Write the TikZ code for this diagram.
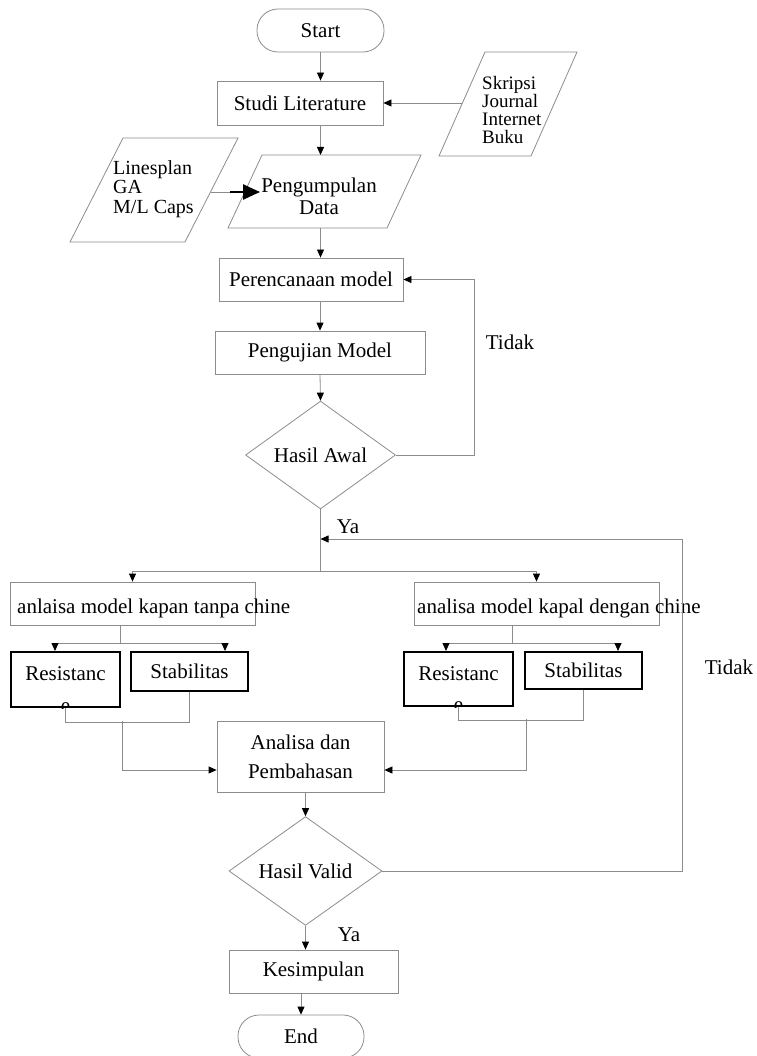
\documentclass[tikz,border=0pt]{standalone}
\usepackage{fontspec}
\setmainfont{Liberation Serif}
\usetikzlibrary{arrows.meta,shapes.geometric}
\definecolor{abu}{gray}{0.55}
\newcommand{\huruf}{\fontsize{21}{24}\selectfont}
\tikzset{
  kotak/.style={draw=abu, line width=0.8pt, rectangle, inner sep=0pt, align=center, font=\huruf},
  kotaktebal/.style={draw=black, line width=2pt, rectangle, inner sep=0pt, align=center, font=\huruf},
  terminal/.style={draw=abu, line width=0.8pt, rectangle, rounded corners=21pt, inner sep=0pt, font=\huruf},
  keputusan/.style={draw=abu, line width=0.8pt, diamond, inner sep=0pt, font=\huruf},
  garis/.style={draw=abu, line width=0.8pt},
  panah/.style={draw=abu, line width=0.8pt, -{Triangle[length=8pt,width=7pt,black]}},
  teks/.style={inner sep=0pt, font=\huruf},
}
\begin{document}
\begin{tikzpicture}[x=1pt,y=-1pt]
\useasboundingbox (0,0) rectangle (756,1056);

\node[terminal, minimum width=127pt, minimum height=43pt] (mulai) at (320.5,30.5) {Start}; % Start
\node[kotak, minimum width=166pt, minimum height=44pt] (studi) at (300,103) {Studi Literature}; % Studi

\draw[garis] (485,52) -- (577,52) -- (531,156) -- (439,156) -- cycle; % sumber
\node[teks, align=left, anchor=west, font=\fontsize{19}{18}\selectfont] (sumber) at (482,110) {Skripsi\\Journal\\Internet\\Buku};
\draw[garis] (123,138) -- (238,138) -- (185,242) -- (70,242) -- cycle; % ukuran
\node[teks, align=left, anchor=west, font=\fontsize{20}{19.5}\selectfont] (ukuran) at (113,189) {Linesplan\\GA\\M/L Caps};
\draw[garis] (262,155) -- (421,155) -- (387,228) -- (228,228) -- cycle; % data
\node[teks, align=center, font=\fontsize{21}{22}\selectfont] (data) at (319,196) {Pengumpulan\\Data};
\coordinate (datas) at (320.5,155);
\coordinate (datab) at (320.5,228);
\coordinate (sumberkiri) at (462,103);
\coordinate (ukurankanan) at (211,192);
\coordinate (tebal) at (230,192);
\coordinate (datakiri) at (260,192);

\node[kotak, minimum width=184pt, minimum height=43pt] (rencana) at (311,279.5) {Perencanaan model};
\node[kotak, minimum width=210pt, minimum height=43pt] (uji) at (320,352.5) {Pengujian Model};
\node[keputusan, minimum width=150pt, minimum height=100pt] (awal) at (320.5,455) {Hasil Awal};

\coordinate (pisah) at (320.5,571);
\coordinate (balik) at (682,539);
\node[kotak, minimum width=245pt, minimum height=43pt] (tanpa) at (132.5,603.5) {};
\node[teks, anchor=base west] (tanpateks) at (17,613) {anlaisa model kapan tanpa chine};
\node[kotak, minimum width=245pt, minimum height=43pt] (dengan) at (536.5,603.5) {};
\node[teks, anchor=base west] (denganteks) at (417,613) {analisa model kapal dengan chine};

% kiri
\node[kotaktebal, minimum width=109pt, minimum height=55pt] (res1) at (65.5,679.5) {};
\node[teks, anchor=base] (res1teks) at (65.5,680) {Resistanc};
\node[kotaktebal, minimum width=117pt, minimum height=39pt] (stab1) at (189.5,671.5) {Stabilitas};
% kanan
\node[kotaktebal, minimum width=109pt, minimum height=54pt] (res2) at (458.5,679) {};
\node[teks, anchor=base] (res2teks) at (458.5,680) {Resistanc};
\node[kotaktebal, minimum width=117pt, minimum height=37pt] (stab2) at (583.5,670.5) {Stabilitas};
\begin{scope}
  \clip (res1.south west) rectangle (res1.north east);
  \node[teks, anchor=base] (res1e) at (65.5,712) {e};
\end{scope}
\begin{scope}
  \clip (res2.south west) rectangle (res2.north east);
  \node[teks, anchor=base] (res2e) at (458.5,711) {e};
\end{scope}

\node[kotak, minimum width=167pt, minimum height=71pt, font=\fontsize{21}{29}\selectfont] (analisa) at (300.5,756.5) {Analisa dan\\Pembahasan};
\node[keputusan, minimum width=153pt, minimum height=102pt] (valid) at (305.5,871) {Hasil Valid};
\node[kotak, minimum width=169pt, minimum height=43pt] (simpul) at (313.5,971.5) {Kesimpulan};
\node[terminal, minimum width=126pt, minimum height=43pt] (selesai) at (301,1036.5) {End};

% alur atas
\draw[panah] (mulai.south) -- (mulai.south |- studi.north);
\draw[panah] (studi.south -| datas) -- (datas);
\draw[panah] (sumberkiri) -- (studi.east);
\draw[garis] (ukurankanan) -- (tebal);
\draw[line width=2.5pt, -{Triangle[length=17pt,width=15pt]}] (tebal) -- (datakiri);
\draw[panah] (datab) -- (datab |- rencana.north);
\draw[panah] (uji.north |- rencana.south) -- (uji.north);
\draw[panah] (uji.south) -- (awal.north);
\draw[panah] (awal.east) -- ++(78,0) |- (rencana.east);
\node[teks] (tidak1) at (510,342) {Tidak};
\draw[garis] (awal.south) -- (pisah);
\node[teks] (ya1) at (348,527) {Ya};
\draw[panah] (pisah) -| (tanpa.north);
\draw[panah] (pisah) -| (dengan.north);
\draw[panah] (valid.east) -| (balik) -- (balik -| pisah);
\node[teks] (tidak2) at (729,667) {Tidak};

% cabang kiri
\coordinate (kiri) at (120,643);
\coordinate (ka) at (55,643);
\coordinate (kb) at (225,643);
\coordinate (kc) at (122,721);
\draw[garis] (tanpa.south -| kiri) -- (kiri);
\draw[garis] (ka) -- (kb);
\draw[panah] (ka) -- (ka |- res1.north);
\draw[panah] (kb) -- (kb |- stab1.north);
\draw[garis] (res1.south) -- ++(0,14) -| (stab1.south);
\draw[panah] (kc) |- (analisa.west |- 0,770);

% cabang kanan
\coordinate (kanan) at (512,643);
\coordinate (ka2) at (446,643);
\coordinate (kb2) at (618,643);
\coordinate (kc2) at (526,719);
\draw[garis] (dengan.south -| kanan) -- (kanan);
\draw[garis] (ka2) -- (kb2);
\draw[panah] (ka2) -- (ka2 |- res2.north);
\draw[panah] (kb2) -- (kb2 |- stab2.north);
\draw[garis] (res2.south) -- ++(0,13) -| (stab2.south);
\draw[panah] (kc2) |- (analisa.east |- 0,770);

% alur bawah
\draw[panah] (valid.north |- analisa.south) -- (valid.north);
\draw[panah] (valid.south) -- (valid.south |- simpul.north);
\node[teks] (ya2) at (349,935) {Ya};
\draw[panah] (selesai.north |- simpul.south) -- (selesai.north);
\end{tikzpicture}
\end{document}
